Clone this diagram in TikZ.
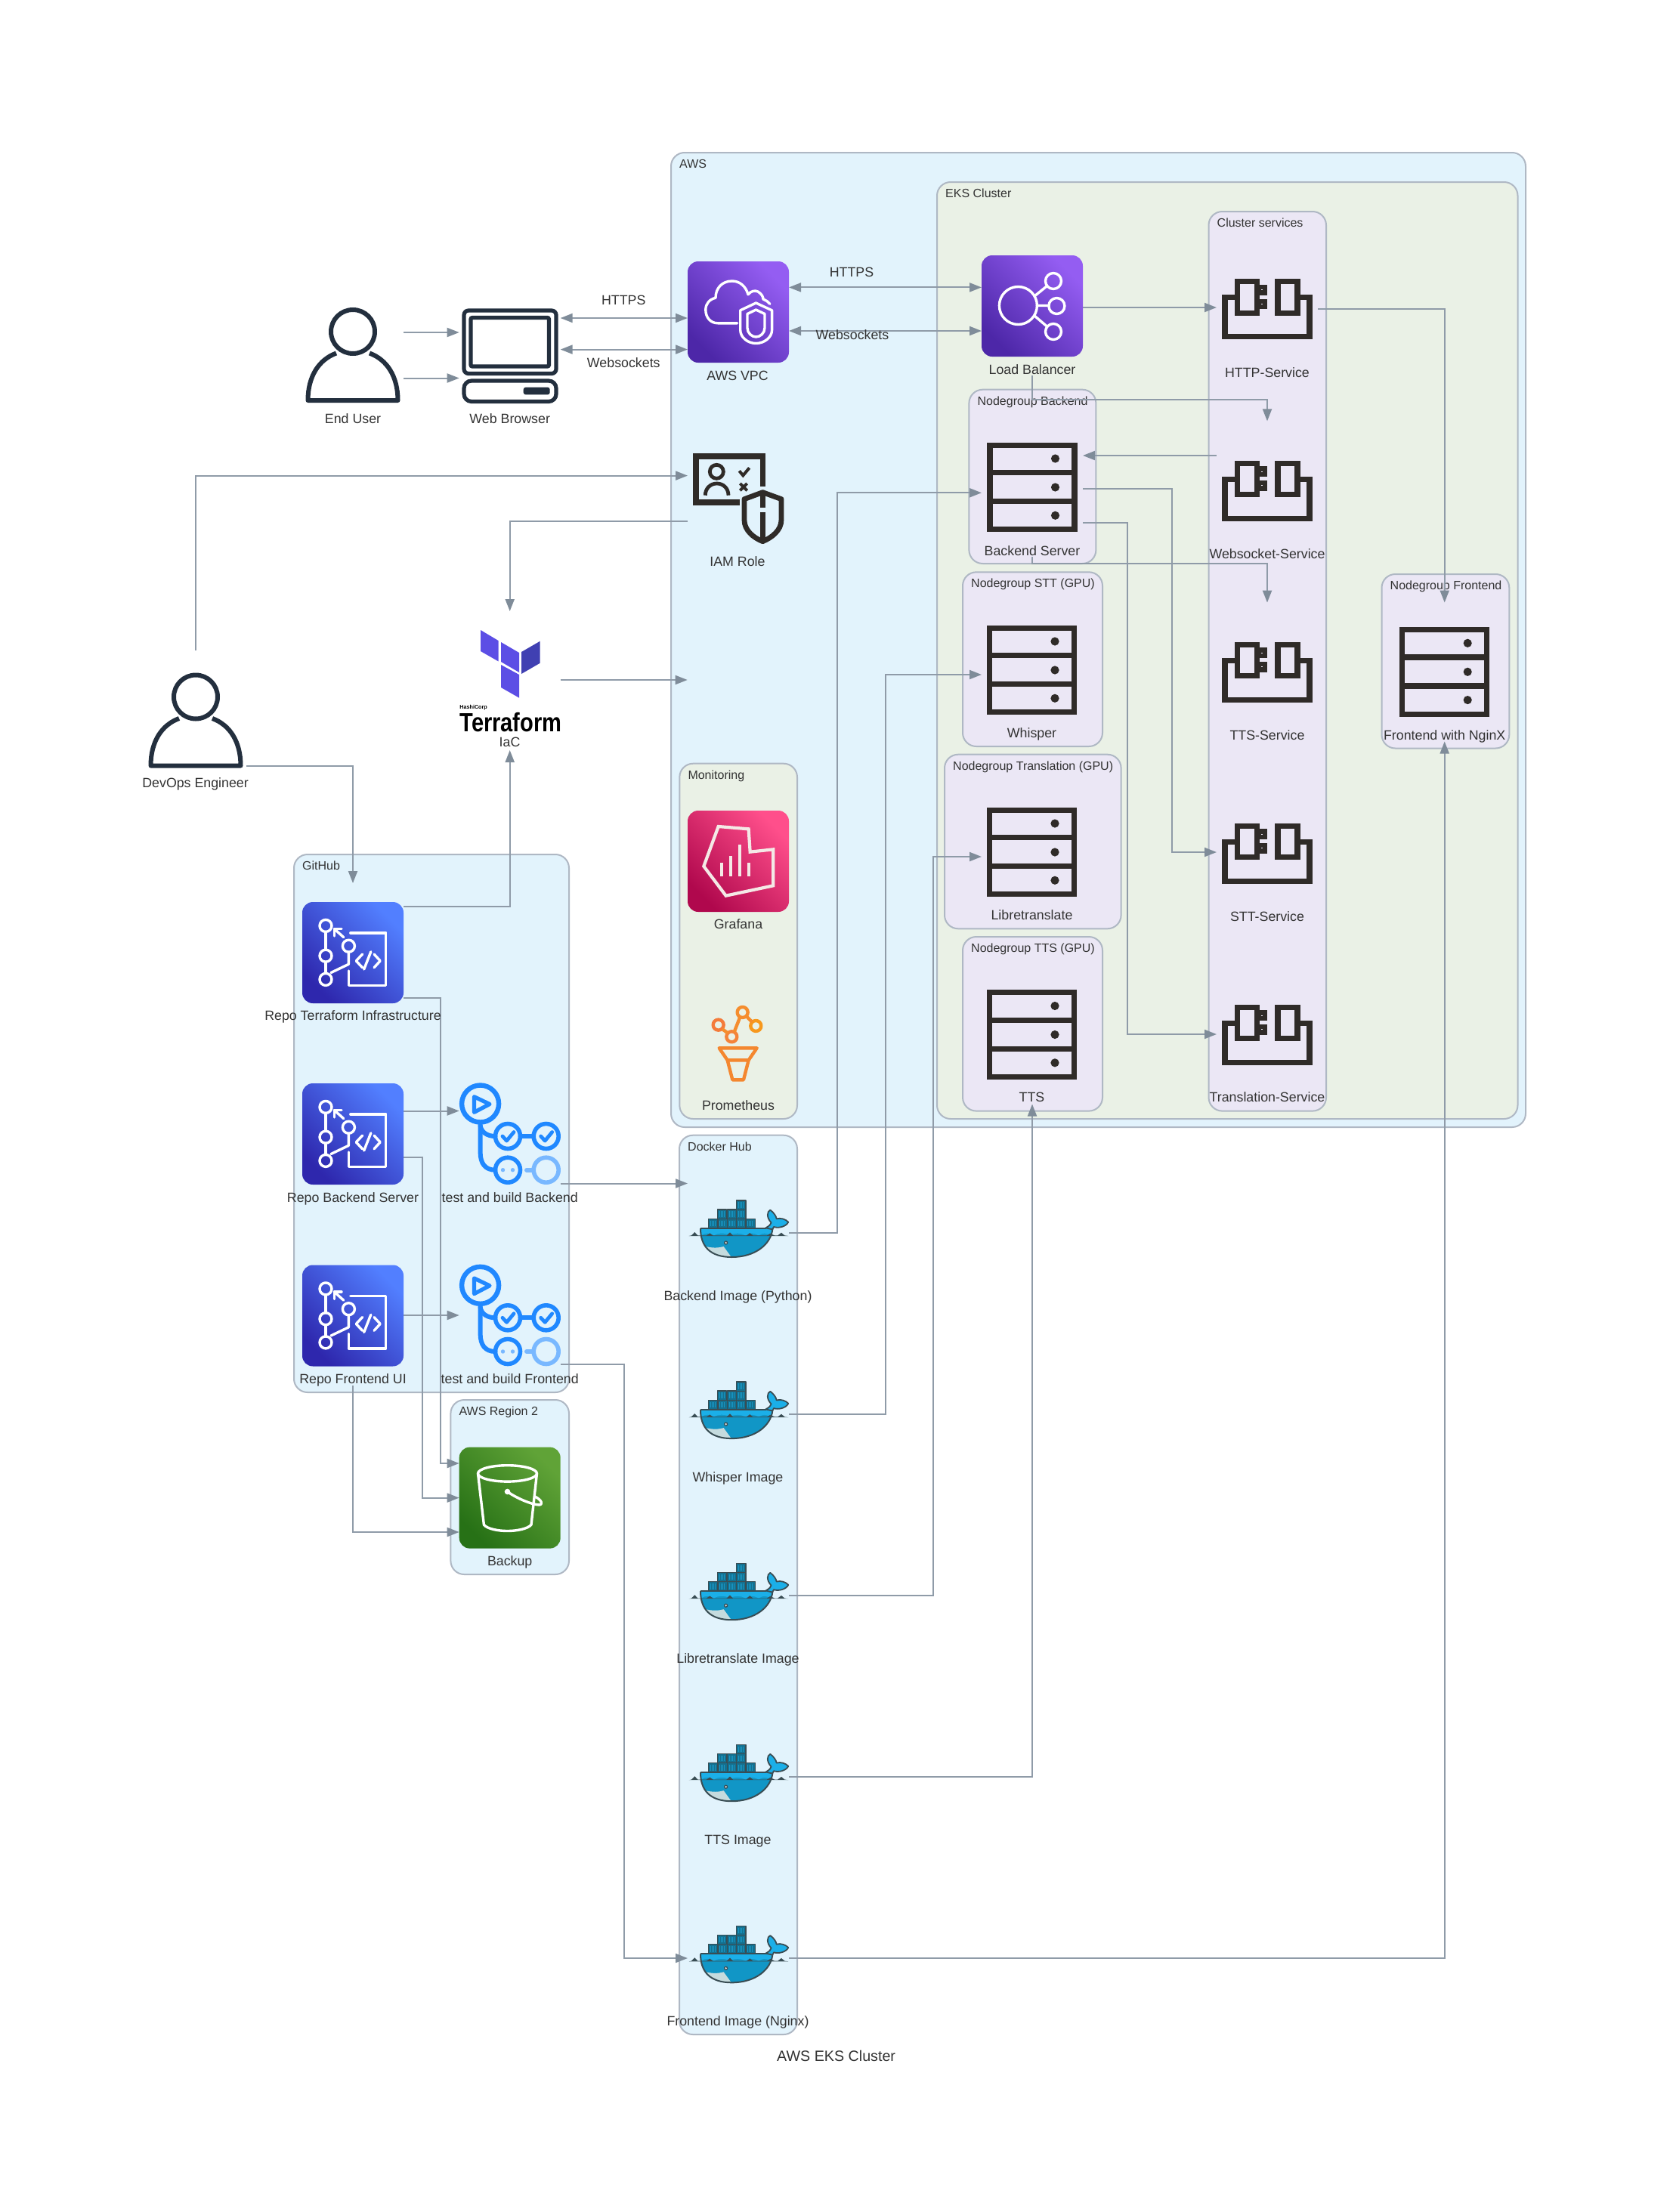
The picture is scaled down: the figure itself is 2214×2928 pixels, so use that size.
\documentclass[tikz,border=0pt]{standalone}
\usepackage{fontspec}
\setmainfont{Liberation Sans}
\usetikzlibrary{arrows.meta,calc}
\definecolor{gBlue}{HTML}{E2F3FC}
\definecolor{gGreen}{HTML}{EAF1E6}
\definecolor{gPurple}{HTML}{EBE7F5}
\definecolor{gStroke}{HTML}{AFB8C4}
\definecolor{edgeC}{HTML}{8F9BA8}
\definecolor{tipC}{HTML}{7F8C99}
\definecolor{txtC}{HTML}{333333}
\definecolor{inkC}{HTML}{2F2B28}
\definecolor{personC}{HTML}{232F3E}
\definecolor{actC}{HTML}{2088FF}
\definecolor{actL}{HTML}{79B8FF}
\definecolor{dkOut}{HTML}{394D54}
\definecolor{dkLight}{HTML}{1BAFE8}
\definecolor{dkMid}{HTML}{1196C6}
\definecolor{dkBox}{HTML}{14708F}
\definecolor{dkBelly}{HTML}{C5DBDE}
\definecolor{vpcD}{HTML}{4D27A8}
\definecolor{vpcL}{HTML}{945DF2}
\definecolor{repoD}{HTML}{2E27AD}
\definecolor{repoL}{HTML}{527FFF}
\definecolor{graD}{HTML}{B0084D}
\definecolor{graL}{HTML}{FF4F8B}
\definecolor{sthD}{HTML}{277116}
\definecolor{sthL}{HTML}{60A337}
\definecolor{tfA}{HTML}{5C4EE5}
\definecolor{tfB}{HTML}{4040B2}
\definecolor{graW}{HTML}{F4E9E6}
\definecolor{proA}{HTML}{F47B3A}
\definecolor{proB}{HTML}{F4833A}
\definecolor{proC}{HTML}{F58D2E}
\definecolor{proD}{HTML}{F7981D}
\definecolor{proE}{HTML}{F4872F}
\tikzset{
  nbox/.style={minimum width=67pt,minimum height=92pt,inner sep=0pt,outer sep=0pt},
  lbl/.style={inner sep=0pt,yshift=-0.7pt,text=txtC,font=\fontsize{8.9pt}{10pt}\selectfont,text height=6.4pt,text depth=1.8pt},
  glbl/.style={inner sep=0pt,yshift=-0.7pt,anchor=west,text=txtC,font=\fontsize{8pt}{9pt}\selectfont,text height=5.7pt,text depth=1.6pt},
  grpbox/.style={draw=gStroke,line width=1pt,rounded corners=9pt,inner sep=0pt,outer sep=0pt},
  edgeline/.style={draw=edgeC,line width=1pt},
  arr/.style={edgeline,-{Triangle[length=8pt,width=6pt,color=tipC]}},
  barr/.style={edgeline,{Triangle[length=8pt,width=6pt,color=tipC]}-{Triangle[length=8pt,width=6pt,color=tipC]}},
  wline/.style={draw=white,line width=1.7pt,line join=round,line cap=round},
  svc/.style={draw=inkC,line width=3.6pt,line join=miter},
}
% group box: name, x1,y1,x2,y2, fill, label
\newcommand\grpnode[7]{%
  \pgfmathsetmacro\gcx{(#2+#4)/2}\pgfmathsetmacro\gcy{(#3+#5)/2}%
  \pgfmathsetmacro\gw{(#4-#2)*0.5}\pgfmathsetmacro\gh{(#5-#3)*0.5}%
  \pgfmathsetmacro\glx{#2+10.8}\pgfmathsetmacro\gly{#3+15}%
  \node[grpbox,fill=#6,minimum width=\gw pt,minimum height=\gh pt] (#1) at (\gcx,\gcy) {};
  \node[glbl] (#1l) at (\glx,\gly) {#7};
}
\newcommand\awsicon[4]{% cx, cy, dark, light
  \shade[rounded corners=7pt,bottom color=#3,top color=#4,shading angle=-45] ($(#1,#2)+(-67,-67)$) rectangle ($(#1,#2)+(67,67)$);
}
\newcommand\servericon[2]{%
  \begin{scope}[shift={(#1,#2)}]
    \draw[svc] (-56,-55.8) rectangle (56,55.8);
    \draw[svc] (-56,-19.3) -- (56,-19.3) (-56,18.7) -- (56,18.7);
    \fill[inkC] (30.5,-38) circle (5.6) (30.5,0) circle (5.6) (30.5,37.3) circle (5.6);
  \end{scope}
}
\newcommand\serviceicon[1]{%
  \begin{scope}[shift={(1617.3,#1)}]
    \draw[svc] (17,24.7) -- (3.7,24.7) -- (3.7,76.7) -- (115.7,76.7) -- (115.7,24.7) -- (103.3,24.7);
    \draw[svc] (20.3,3.7) rectangle (46.3,45.3) (73.7,3.7) rectangle (99.7,45.3);
    \draw[draw=inkC,line width=3.2pt] (48,11) rectangle (56.7,18.3) (48,29.7) rectangle (56.7,37);
  \end{scope}
}
\newcommand\personicon[2]{%
  \begin{scope}[shift={(#1,#2)}]
    \draw[personC,line width=3pt] (467,439) circle (29);
    \draw[personC,line width=3pt,line join=round] (445,467.5) .. controls (422,476) and (407.5,498) .. (407.5,530) -- (526.5,530) .. controls (526.5,498) and (512,476) .. (489,467.5);
  \end{scope}
}
\newcommand\repoicon[1]{% top y of the icon
  \pgfmathsetmacro\rcy{#1+67}%
  \awsicon{467}{\rcy}{repoD}{repoL}
  \begin{scope}[shift={(400,#1)}]
    \draw[wline] (31,39.4) -- (31,63.2) (31,79.2) -- (31,94.4);
    \draw[wline] (31,31.4) circle (8) (31,71.2) circle (8) (31,102.4) circle (8) (61.4,58.2) circle (8);
    \draw[wline] (61.4,66.2) -- (61.4,82.3) -- (38,93.5);
    \draw[wline] (54.7,46.6) -- (42.3,35.5);
    \draw[wline] (42.3,45) -- (42.3,35.5) -- (52,35.5);
    \draw[wline] (63.8,40.8) -- (110.7,40.8) -- (110.7,110.5) -- (61.4,110.5) -- (61.4,91);
    \draw[wline] (79.6,69) -- (71.3,77.9) -- (79.6,86.8);
    \draw[wline] (95,69) -- (103.2,77.9) -- (95,86.8);
    \draw[wline] (90.8,65.8) -- (81.7,89);
  \end{scope}
}
\newcommand\actionicon[1]{% y shift from the first icon
  \begin{scope}[shift={(0,#1)},line cap=round,line join=round]
    \draw[actC,line width=3.2pt] (635.6,1461) circle (24.5);
    \draw[actC,line width=2.6pt] (627.5,1451.7) -- (648,1461.5) -- (627.5,1472.3) -- cycle;
    \draw[actC,line width=3pt] (635.6,1487) -- (635.6,1525) .. controls (635.6,1540) and (642,1548.7) .. (655.5,1548.7);
    \draw[actC,line width=3pt] (635.6,1490) .. controls (637,1499) and (645,1504) .. (655.5,1504);
    \draw[actC,line width=3pt] (688.5,1504) -- (706,1504);
    \draw[actC,line width=2.8pt] (672,1504) circle (16.5) (722.7,1504) circle (16.5) (672,1548.7) circle (16.5);
    \draw[actC,line width=2.4pt] (665,1504) -- (670.5,1510) -- (680,1498.5) (715.7,1504) -- (721.2,1510) -- (730.7,1498.5);
    \fill[actL] (665.5,1548.7) circle (2.7) (678.5,1548.7) circle (2.7);
    \draw[actL,line width=3pt] (697,1548.7) -- (704,1548.7);
    \draw[actL,line width=2.8pt] (722.7,1548.7) circle (16.5);
  \end{scope}
}
\newcommand\dockericon[1]{% y shift from the first whale
  \begin{scope}[shift={(860,{1550+#1})},scale=0.3333,line join=round]
    % hull
    \fill[dkMid] (201,228) -- (488,228) .. controls (480,290) and (420,342) .. (325,342) .. controls (240,342) and (201,300) .. (201,228) -- cycle;
    \fill[dkLight] (201,228) -- (488,228) -- (478,256) .. controls (460,245) and (450,245) .. (432,256) .. controls (410,245) and (400,245) .. (380,256) .. controls (360,245) and (335,245) .. (318,256) .. controls (300,245) and (270,245) .. (255,256) .. controls (235,245) and (220,245) .. (203,256) -- cycle;
    \fill[dkBelly] (215,298) .. controls (250,308) and (275,305) .. (293,300) -- (322,340) .. controls (275,342) and (235,330) .. (215,298) -- cycle;
    % tail
    \filldraw[fill=dkLight,draw=dkOut,line width=.9pt] (460,226) .. controls (475,218) and (480,212) .. (482,205) .. controls (462,185) and (465,160) .. (478,155) .. controls (492,165) and (502,180) .. (503,190) .. controls (520,185) and (540,192) .. (550,203) .. controls (540,222) and (510,228) .. (492,222) .. controls (490,226) and (488,230) .. (487,232) -- cycle;
    \draw[dkOut,line width=1pt] (201,228) -- (462,228);
    \draw[dkOut,line width=1pt] (201,228) .. controls (201,300) and (240,342) .. (325,342) .. controls (420,342) and (480,290) .. (487,232);
    % water
    \fill[dkOut] (155,258) -- (165,256) -- (178,243) -- (190,256) -- (225,256) -- (238,247) -- (250,256) -- (305,256) -- (318,244) -- (330,256) -- (385,256) -- (397,246) -- (409,256) -- (465,256) -- (478,248) -- (495,256) -- (508,256) -- (522,245) -- (535,256) -- (550,258) -- cycle;
    % containers
    \foreach \bx/\by in {232/190,270/190,307/190,344/190,381/190,268/153,307/153,344/153,344/117}{
      \filldraw[fill=dkBox,draw=dkOut,line width=.7pt] (\bx,\by) rectangle ++(37,37);
      \draw[dkLight!60!dkBox,line width=.35pt] (\bx+8,\by+7) -- ++(0,23) (\bx+14,\by+7) -- ++(0,23) (\bx+20,\by+7) -- ++(0,23) (\bx+26,\by+7) -- ++(0,23);
    }
    \fill[dkOut] (302,285) circle (8);
    \fill[white!85!dkOut] (302,285) circle (4);
  \end{scope}
}
\begin{document}
\begin{tikzpicture}[x=0.5pt,y=-0.5pt]
\useasboundingbox (0,0) rectangle (2214,2928);
\fill[white] (0,0) rectangle (2214,2928);
% ---------- groups
\grpnode{aws}{888}{202}{2019}{1492}{gBlue}{AWS}
\grpnode{eks}{1240}{241}{2008.5}{1481}{gGreen}{EKS Cluster}
\grpnode{clsvc}{1599.5}{280}{1755}{1470.6}{gPurple}{Cluster services}
\grpnode{ngb}{1282.4}{515.7}{1450.4}{746}{gPurple}{Nodegroup Backend}
\grpnode{ngs}{1274}{757.3}{1459}{988}{gPurple}{Nodegroup STT (GPU)}
\grpnode{ngl}{1250}{998.7}{1483.6}{1229.3}{gPurple}{Nodegroup Translation (GPU)}
\grpnode{ngt}{1274}{1240}{1459}{1470.6}{gPurple}{Nodegroup TTS (GPU)}
\grpnode{ngf}{1828.5}{760}{1997.3}{990.5}{gPurple}{Nodegroup Frontend}
\grpnode{mon}{899.3}{1010.7}{1055}{1481}{gGreen}{Monitoring}
\grpnode{gh}{389}{1131}{753}{1843}{gBlue}{GitHub}
\grpnode{reg}{596.4}{1853}{753}{2084}{gBlue}{AWS Region 2}
\grpnode{dh}{899}{1502.7}{1055}{2693}{gBlue}{Docker Hub}
% ---------- invisible node frames (icon + label)
\node[nbox] (eu) at (467,470) {};
\node[nbox] (br) at (674.7,470) {};
\node[nbox] (vpc) at (977,413) {};
\node[nbox] (iam) at (977,660) {};
\node[nbox] (tf) at (674.7,901) {};
\node[nbox] (dev) at (259,953) {};
\node[nbox] (lb) at (1366,405) {};
\node[nbox] (be) at (1366,645) {};
\node[nbox] (wh) at (1366,887) {};
\node[nbox] (lt) at (1366,1128) {};
\node[nbox] (tt) at (1366,1369.5) {};
\node[nbox] (fe) at (1911.7,889.5) {};
\node[nbox] (shttp) at (1677,409) {};
\node[nbox] (sws) at (1677,649.4) {};
\node[nbox] (stts) at (1677,889.6) {};
\node[nbox] (sstt) at (1677,1129.5) {};
\node[nbox] (str) at (1677,1369.7) {};
\node[nbox] (gra) at (977,1140) {};
\node[nbox] (pro) at (977,1380) {};
\node[nbox] (rtf) at (467,1261) {};
\node[nbox] (rbe) at (467,1501.5) {};
\node[nbox] (rfe) at (467,1741.5) {};
\node[nbox] (abe) at (674.7,1501.5) {};
\node[nbox] (afe) at (674.7,1741.5) {};
\node[nbox] (bak) at (674.7,1982.6) {};
\node[nbox] (dbe) at (977,1631.7) {};
\node[nbox] (dwh) at (977,1871.8) {};
\node[nbox] (dlt) at (977,2112) {};
\node[nbox] (dtt) at (977,2352) {};
\node[nbox] (dfe) at (977,2592) {};
\coordinate (awsin) at (909.7,900);
% ---------- connectors
\draw[arr] (eu.east |- 0,440) -- (br.west |- 0,440);
\draw[arr] (eu.east |- 0,500.5) -- (br.west |- 0,500.5);
\draw[barr] (br.east |- 0,421) -- (vpc.west |- 0,421);
\draw[barr] (br.east |- 0,462.6) -- (vpc.west |- 0,462.6);
\draw[barr] (vpc.east |- 0,380.4) -- (lb.west |- 0,380.4);
\draw[barr] (vpc.east |- 0,438) -- (lb.west |- 0,438);
\draw[arr] (lb.east |- 0,407) -- (shttp.west |- 0,407);
\draw[arr] (lb.south) |- (sws.north |- 0,529) -- (sws.north);
\draw[arr] (sws.west |- 0,603) -- (be.east |- 0,603);
\draw[arr] (be.east |- 0,647.4) -- (1551,647.4) |- (sstt.west |- 0,1128);
\draw[arr] (be.east |- 0,692) -- (1492,692) |- (str.west |- 0,1369);
\draw[arr] (be.south) |- (stts.north |- 0,746) -- (stts.north);
\draw[arr] (shttp.east |- 0,409) -| (fe.north);
\draw[arr] (dev.north) |- (iam.west |- 0,629.6);
\draw[arr] (iam.west |- 0,690) -| (tf.north);
\draw[arr] (tf.east |- awsin) -- (awsin);
\draw[arr] (dev.east |- 0,1013.8) -| (rtf.north);
\draw[arr] (rtf.east |- 0,1200.4) -| (tf.south);
\draw[arr] (rtf.east |- 0,1320.5) -- (583.3,1320.5) |- (bak.west |- 0,1937);
\draw[arr] (rbe.east |- 0,1470.5) -- (abe.west |- 0,1470.5);
\draw[arr] (rbe.east |- 0,1531.7) -- (558.6,1531.7) |- (bak.west |- 0,1982.6);
\draw[arr] (rfe.east |- 0,1741) -- (afe.west |- 0,1741);
\draw[arr] (rfe.south) |- (bak.west |- 0,2028);
\draw[arr] (abe.east |- 0,1566.5) -- (dbe.west |- 0,1566.5);
\draw[arr] (afe.east |- 0,1806) -- (825.6,1806) |- (dfe.west);
\draw[arr] (dbe.east) -- (1108,1631.7) |- (be.west |- 0,652.3);
\draw[arr] (dwh.east) -- (1172,1871.8) |- (wh.west |- 0,893);
\draw[arr] (dlt.east) -- (1234.6,2112) |- (lt.west |- 0,1134);
\draw[arr] (dtt.east) -| (tt.south);
\draw[arr] (dfe.east) -| (fe.south);
% ---------- edge labels
\node[lbl] (e1) at (825.3,397) {HTTPS};
\node[lbl] (e2) at (825.3,480) {Websockets};
\node[lbl] (e3) at (1127,360) {HTTPS};
\node[lbl] (e4) at (1128,443.4) {Websockets};
% ---------- people and browser
\personicon{0}{0}
\personicon{-208}{483.5}
\draw[personC,line width=2.6pt,rounded corners=3pt] (614,411) rectangle (736,494.5);
\draw[personC,line width=2.6pt,rounded corners=1pt] (623,420.5) rectangle (726.5,485);
\draw[personC,line width=2.6pt,rounded corners=5pt] (614,504) rectangle (736,531.5);
\fill[personC,rounded corners=1.5pt] (692.7,512.6) rectangle (727.7,522.4);
% ---------- VPC
\awsicon{977}{413}{vpcD}{vpcL}
\draw[wline] (975.7,427.8) -- (950,427.8) .. controls (940,427.8) and (933.8,420) .. (933.8,410) .. controls (933.8,402) and (939,396) .. (947,394.3) .. controls (947,381) and (956,372) .. (968.8,372) .. controls (979,372) and (987,379) .. (990,389.8) .. controls (994,385) and (999,384) .. (1003,386) .. controls (1008,389) and (1010,393) .. (1010,396) .. controls (1013,397) and (1016,399) .. (1018.8,402.3);
\draw[wline] (1000.4,401) -- (1021.6,410.8) -- (1021.6,436.7) .. controls (1021.6,447) and (1011,454.5) .. (1000.4,454.5) .. controls (990,454.5) and (979.7,447) .. (979.7,436.7) -- (979.7,410.8) -- cycle;
\draw[wline] (1000.4,410) -- (1012,415.5) -- (1012,434) .. controls (1012,441) and (1006,446) .. (1000.4,446) .. controls (995,446) and (989,441) .. (989,434) -- (989,415.5) -- cycle;
% ---------- IAM
\begin{scope}[shift={(890,590)},scale=0.3333,line join=miter]
  \draw[inkC,line width=3.7pt] (266,225) -- (93,225) -- (93,42) -- (358,42) -- (358,162);
  \draw[inkC,line width=2.4pt] (175,103) circle (27);
  \draw[inkC,line width=2.4pt] (130,197) .. controls (130,170) and (150,150) .. (176,150) .. controls (202,150) and (222,170) .. (222,197);
  \draw[inkC,line width=2pt] (265,100) -- (280,118) -- (305,88);
  \draw[inkC,line width=2pt] (268,150) -- (296,178) (296,150) -- (268,178);
  \draw[inkC,line width=3.4pt,line join=round] (358,185) -- (432,212) -- (432,295) .. controls (432,335) and (395,365) .. (358,380) .. controls (320,365) and (285,335) .. (285,295) -- (285,212) -- cycle;
  \draw[inkC,line width=3.7pt] (358,185) -- (358,245) (358,265) -- (358,375);
\end{scope}
% ---------- Terraform
\fill[tfA] (636,834) -- (659.5,848) -- (659.5,875.4) -- (636,862) -- cycle;
\fill[tfA] (663,850) -- (687,864) -- (687,890) -- (663,876) -- cycle;
\fill[tfB] (714.7,848.7) -- (690,863) -- (690,892) -- (714.7,877.7) -- cycle;
\fill[tfA] (663,880) -- (687,893) -- (687,923.7) -- (663,910) -- cycle;
\node[inner sep=0pt,anchor=base west,font=\bfseries\fontsize{3.6pt}{4pt}\selectfont] (tfh) at (608,938) {HashiCorp};
\node[inner sep=0pt,anchor=base west,font=\bfseries\fontsize{17.4pt}{18pt}\selectfont] (tfw) at (608,968) {\scalebox{.835}[1]{Terraform}};
% ---------- Load balancer
\awsicon{1366}{405}{vpcD}{vpcL}
\draw[wline] (1347.4,404.5) circle (25) (1394,372) circle (10.5) (1398.4,405) circle (10.5) (1394,439) circle (10.5);
\draw[wline] (1369,392) -- (1385.4,378.7) (1372.4,404.5) -- (1388,404.5) (1369,418) -- (1385.4,432);
% ---------- servers and services
\servericon{1366}{645}
\servericon{1365.5}{887}
\servericon{1365.5}{1128}
\servericon{1365.5}{1369.5}
\servericon{1911.7}{889.3}
\serviceicon{369}
\serviceicon{609.5}
\serviceicon{849.5}
\serviceicon{1089.5}
\serviceicon{1329.5}
% ---------- Grafana
\awsicon{977}{1140}{graD}{graL}
\begin{scope}[shift={(860,980)},scale=0.3333,line join=miter]
  \draw[graW,line width=2.1pt] (272,342) -- (392,352) -- (398,443) -- (490,433) -- (490,577) -- (302,617) -- (214,500) -- cycle;
  \draw[graW,line width=2.1pt] (285,485) -- (285,540) (320,460) -- (320,540) (356,415) -- (356,540) (392,485) -- (392,540);
\end{scope}
% ---------- Prometheus
\begin{scope}[shift={(860,980)},scale=0.3333,line join=round]
  \draw[proA,line width=2.2pt] (272,1130) circle (21);
  \draw[proB,line width=2.2pt] (325,1177) circle (21);
  \draw[proC,line width=2.2pt] (368,1080) circle (21);
  \draw[proD,line width=2.2pt] (421,1134) circle (21);
  \draw[proC,line width=2.2pt] (287,1146) -- (310,1163) (335,1158) -- (358,1099) (383,1095) -- (406,1119);
  \draw[proE,line width=2.2pt] (275,1222) -- (425,1222) -- (392,1270) -- (372,1348) -- (328,1348) -- (308,1270) -- cycle (308,1270) -- (392,1270);
\end{scope}
% ---------- GitHub
\repoicon{1194}
\repoicon{1434}
\repoicon{1674.5}
\actionicon{0}
\actionicon{240.3}
% ---------- S3 backup
\awsicon{674.7}{1982.6}{sthD}{sthL}
\draw[wline] (671.5,1950.4) ellipse (39 and 10.7);
\draw[wline] (632.5,1950.4) -- (640.4,2018.3) .. controls (645,2024) and (660,2026.5) .. (671.5,2026.5) .. controls (683,2026.5) and (698,2024) .. (703,2018.3) -- (710.5,1950.4);
\fill[white] (671.5,1974.5) circle (3.8);
\draw[wline] (671.5,1974.5) .. controls (685,1984) and (705,1992) .. (714,1992) .. controls (718,1992) and (718,1986) .. (708,1981);
% ---------- Docker
\dockericon{0}
\dockericon{240.1}
\dockericon{480.2}
\dockericon{720.2}
\dockericon{960.3}
% ---------- labels
\node[lbl] (eul) at (467,554) {End User};
\node[lbl] (brl) at (674.7,554) {Web Browser};
\node[lbl] (vpcl) at (976,497) {AWS VPC};
\node[lbl] (iaml) at (976,743.4) {IAM Role};
\node[lbl] (tfl) at (674.5,982.6) {IaC};
\node[lbl] (devl) at (258.6,1036.6) {DevOps Engineer};
\node[lbl] (lbl1) at (1366,489.4) {Load Balancer};
\node[lbl] (bel) at (1366,729) {Backend Server};
\node[lbl] (whl) at (1365.5,970) {Whisper};
\node[lbl] (ltl) at (1365.5,1211) {Libretranslate};
\node[lbl] (ttl) at (1365.5,1452.8) {TTS};
\node[lbl] (fel) at (1911.7,973) {Frontend with NginX};
\node[lbl] (shl) at (1677,493.4) {HTTP-Service};
\node[lbl] (swl) at (1677,733) {Websocket-Service};
\node[lbl] (stl) at (1677,973) {TTS-Service};
\node[lbl] (ssl) at (1677,1213) {STT-Service};
\node[lbl] (srl) at (1677,1452.8) {Translation-Service};
\node[lbl] (gral) at (977,1223) {Grafana};
\node[lbl] (prol) at (977,1463) {Prometheus};
\node[lbl] (rtfl) at (467,1344.6) {Repo Terraform Infrastructure};
\node[lbl] (rbel) at (467,1585.3) {Repo Backend Server};
\node[lbl] (rfel) at (467,1825) {Repo Frontend UI};
\node[lbl] (abel) at (674.7,1585.3) {test and build Backend};
\node[lbl] (afel) at (674.7,1825) {test and build Frontend};
\node[lbl] (bakl) at (674.7,2066) {Backup};
\node[lbl] (dbel) at (976.5,1715) {Backend Image (Python)};
\node[lbl] (dwhl) at (976.5,1955) {Whisper Image};
\node[lbl] (dltl) at (976.5,2195) {Libretranslate Image};
\node[lbl] (dttl) at (976.5,2435) {TTS Image};
\node[lbl] (dfel) at (976.5,2675.3) {Frontend Image (Nginx)};
\node[inner sep=0pt,text=txtC,font=\fontsize{9.85pt}{11pt}\selectfont] (title) at (1106.6,2721) {AWS EKS Cluster};
\end{tikzpicture}
\end{document}
